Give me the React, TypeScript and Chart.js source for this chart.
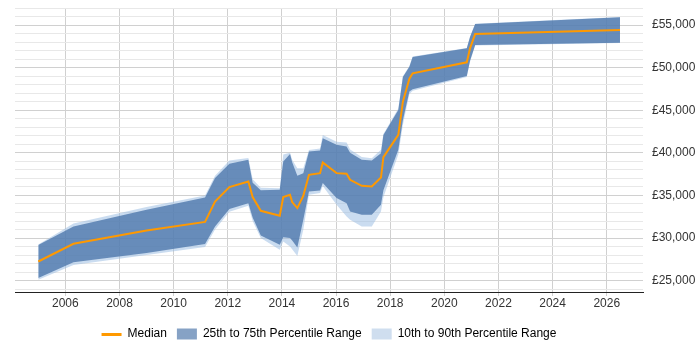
import React, { useEffect, useRef } from 'react';
import { Chart, registerables } from 'chart.js';

Chart.register(...registerables);

const years = [2005.0, 2006.3, 2009.0, 2011.16, 2011.53, 2012.06, 2012.76, 2012.92, 2013.22, 2013.92, 2014.05, 2014.3, 2014.38, 2014.57, 2014.79, 2015.0, 2015.41, 2015.51, 2016.02, 2016.39, 2016.52, 2016.95, 2017.32, 2017.66, 2017.75, 2018.3, 2018.47, 2018.71, 2018.83, 2020.83, 2020.95, 2021.14, 2026.49];
const p10 = [25100, 26850, 28000, 28950, 31000, 33100, 33800, 32000, 30000, 28630, 29600, 29020, 28700, 27900, 30980, 35080, 35300, 36100, 33900, 32530, 32150, 31360, 31360, 33120, 34800, 39800, 43300, 46900, 47300, 48900, 50700, 52600, 52880];
const p25 = [25300, 27150, 28250, 29300, 31360, 33400, 34100, 32400, 30300, 29220, 30100, 30000, 29700, 28900, 32150, 35470, 35590, 36450, 34690, 34100, 33120, 32730, 32730, 33900, 35600, 40350, 43870, 47190, 47460, 49020, 50800, 52660, 52930];
const median = [27250, 29330, 30900, 31900, 34290, 35980, 36640, 34810, 33200, 32620, 34810, 35080, 34220, 33520, 34960, 37420, 37620, 38860, 37620, 37540, 36840, 36130, 36050, 37100, 39500, 42110, 46000, 48700, 49340, 50630, 52270, 53950, 54410];
const p75 = [29200, 31350, 33320, 34750, 37040, 38710, 39180, 36500, 35600, 35660, 39000, 39880, 38900, 37300, 37620, 40150, 40270, 41720, 40940, 40740, 40000, 39180, 39100, 39960, 42110, 45040, 48900, 50110, 51250, 52270, 53600, 55120, 55900];
const p90 = [29250, 31700, 33650, 35000, 37300, 39100, 39400, 36900, 35900, 35850, 39800, 40000, 39200, 38200, 38200, 40330, 40500, 42110, 41300, 41210, 40400, 39500, 39380, 40350, 42200, 45200, 49000, 50200, 51300, 52300, 53650, 55150, 55950];

const xTicks = [2006, 2008, 2010, 2012, 2014, 2016, 2018, 2020, 2022, 2024, 2026];
const yLabelTicks = [25000, 30000, 35000, 40000, 45000, 50000, 55000];
const yMin = 23670;
const yMax = 57000;
const yGridStep = 1000;

const legendLabels = ['Median', '25th to 75th Percentile Range', '10th to 90th Percentile Range'];

const medianLegendLine = {
  id: 'medianLegendLine',
  afterDraw(chart: any) {
    const lg = chart.legend;
    if (!lg || !lg.legendHitBoxes || !lg.legendHitBoxes.length) return;
    const hb = lg.legendHitBoxes[0];
    const ctx = chart.ctx;
    const y = Math.round(hb.top + hb.height / 2) + 0.5;
    ctx.save();
    ctx.strokeStyle = '#ff9900';
    ctx.lineWidth = 3;
    ctx.beginPath();
    ctx.moveTo(hb.left, y);
    ctx.lineTo(hb.left + 20, y);
    ctx.stroke();
    ctx.restore();
  },
};

export default function App() {
  const ref = useRef<HTMLCanvasElement>(null);
  useEffect(() => {
    document.body.style.margin = '0';
    Chart.defaults.font.family = '"Liberation Sans", Arial, sans-serif';
    const pts = (arr: number[]) => years.map((x, i) => ({ x, y: arr[i] }));
    const yGrid: number[] = [];
    for (let v = Math.ceil(yMin / yGridStep) * yGridStep; v <= yMax; v += yGridStep) yGrid.push(v);
    const chart = new Chart(ref.current as HTMLCanvasElement, {
      type: 'line',
      data: {
        datasets: [
          { label: legendLabels[0], data: pts(median), borderColor: '#ff9900', borderWidth: 2, pointRadius: 0, fill: false, tension: 0 },
          { label: legendLabels[1], data: pts(p75), borderColor: 'transparent', borderWidth: 0, pointRadius: 0, backgroundColor: 'rgba(76,118,170,0.78)', fill: '+1' },
          { label: 'p25', data: pts(p25), borderColor: 'transparent', borderWidth: 0, pointRadius: 0, fill: false },
          { label: legendLabels[2], data: pts(p90), borderColor: 'transparent', borderWidth: 0, pointRadius: 0, backgroundColor: 'rgba(150,185,225,0.5)', fill: '+1' },
          { label: 'p10', data: pts(p10), borderColor: 'transparent', borderWidth: 0, pointRadius: 0, fill: false },
        ],
      },
      options: {
        animation: false,
        responsive: true,
        maintainAspectRatio: false,
        layout: { padding: { left: 15, right: 5, top: 8, bottom: 0 } },
        plugins: {
          tooltip: { enabled: false },
          legend: {
            position: 'bottom',
            fullSize: false,
            labels: {
              color: '#333',
              font: { size: 12 },
              boxWidth: 20,
              boxHeight: 11,
              padding: 10,
              generateLabels: () => [
                { text: legendLabels[0], fillStyle: 'rgba(0,0,0,0)', strokeStyle: 'rgba(0,0,0,0)', lineWidth: 0, datasetIndex: 0, hidden: false },
                { text: legendLabels[1], fillStyle: '#86a2c5', strokeStyle: 'rgba(0,0,0,0)', lineWidth: 0, datasetIndex: 1, hidden: false },
                { text: legendLabels[2], fillStyle: '#cfdeef', strokeStyle: 'rgba(0,0,0,0)', lineWidth: 0, datasetIndex: 3, hidden: false },
              ],
            },
          },
        },
        scales: {
          x: {
            type: 'linear',
            min: 2004.14,
            max: 2027.34,
            afterBuildTicks: (s: any) => { s.ticks = xTicks.map((v) => ({ value: v })); },
            afterFit: (s: any) => { s.height = 26; s.paddingLeft = 0; s.paddingRight = 0; },
            grid: { color: '#d0d0d0', tickLength: 4, drawTicks: true },
            border: { display: true, color: '#222', width: 1 },
            ticks: { color: '#333', font: { size: 12 }, padding: 0, autoSkip: false, maxRotation: 0, callback: (v: any) => String(v) },
          },
          y: {
            type: 'linear',
            position: 'right',
            min: yMin,
            max: yMax,
            afterBuildTicks: (s: any) => { s.ticks = yGrid.map((v) => ({ value: v })); },
            afterFit: (s: any) => { s.width = 52; s.paddingTop = 0; s.paddingBottom = 0; },
            grid: {
              color: (c: any) => (c.tick && yLabelTicks.includes(c.tick.value) ? '#d0d0d0' : '#e8e8e8'),
              drawTicks: false,
            },
            border: { display: false },
            ticks: {
              color: '#333',
              font: { size: 12 },
              padding: 9,
              autoSkip: false,
              callback: (v: any) => (yLabelTicks.includes(v) ? '£' + Number(v).toLocaleString('en-GB') : ''),
            },
          },
        },
      },
      plugins: [medianLegendLine],
    } as any);
    return () => chart.destroy();
  }, []);
  return (
    <div style={{ width: 700, height: 350, position: 'relative' }}>
      <canvas ref={ref} />
    </div>
  );
}
